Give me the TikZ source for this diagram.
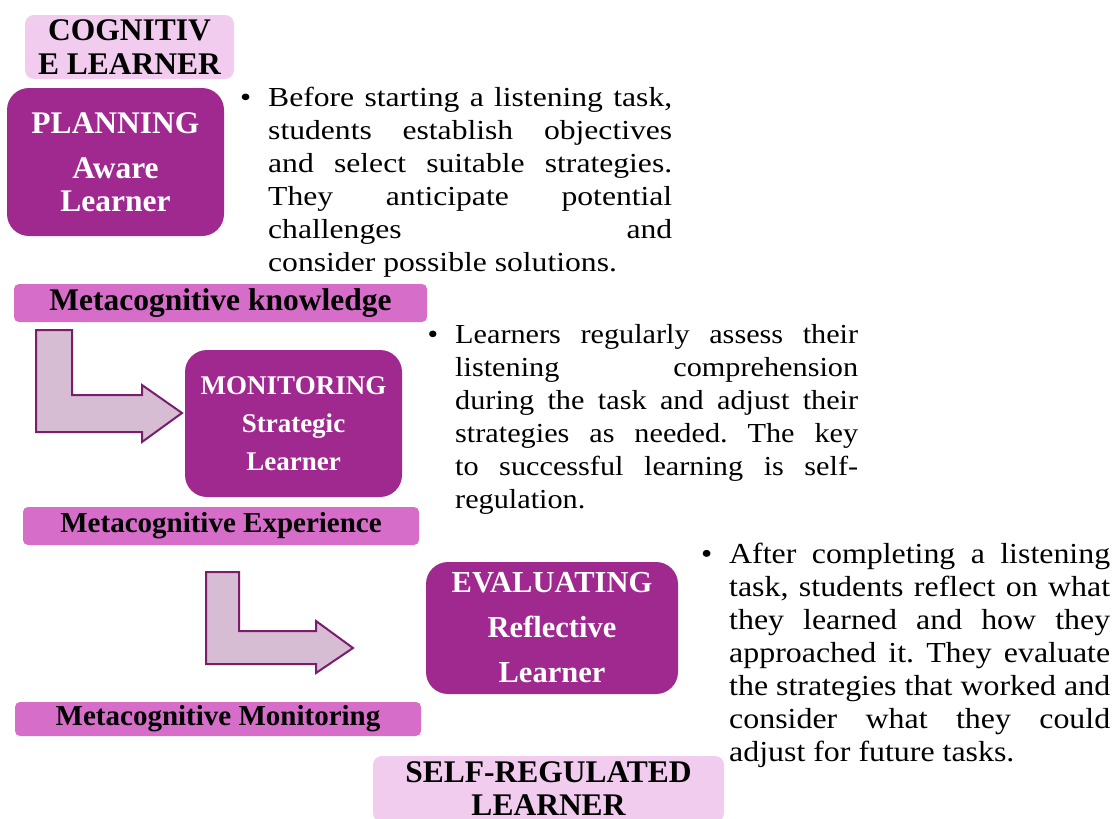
\documentclass[tikz,border=0pt]{standalone}
\usepackage{fontspec}
\setmainfont{Liberation Serif}
\newfontfamily\bodyA[FakeStretch=1.15]{Liberation Serif}
\newfontfamily\bodyB[FakeStretch=1.1]{Liberation Serif}
\newfontfamily\bodyC[FakeStretch=1.1]{Liberation Serif}
\definecolor{stagepurple}{HTML}{A0298F}
\definecolor{tagpink}{HTML}{F2CCEE}
\definecolor{barorchid}{HTML}{D66DC8}
\definecolor{arrowfill}{HTML}{D7BDD4}
\definecolor{arrowline}{HTML}{7A1E6C}
\newcommand\jl[1]{\makebox[\linewidth][s]{#1}\\}
\newcommand\bul{\llap{\textbullet\hspace{17pt}}}
\frenchspacing
\tikzset{
  stage/.style={fill=stagepurple, rounded corners=22pt, text=white, align=center, inner sep=0pt},
  tagbox/.style={fill=tagpink, rounded corners=9pt, align=center, inner sep=0pt},
  barbox/.style={fill=barorchid, rounded corners=5pt, inner sep=0pt},
  bendarrow/.style={fill=arrowfill, draw=arrowline, line width=2pt, line join=miter},
  bodytext/.style={anchor=base west, inner sep=0pt}
}
\begin{document}
\begin{tikzpicture}[x=1pt,y=-1pt]
\useasboundingbox (0,0) rectangle (1119,819);
\clip (0,0) rectangle (1119,819);

% tags
\node[tagbox, minimum width=209pt, minimum height=64pt, font=\bfseries\fontsize{31.5}{34}\selectfont] (cog) at (129.5,47) {COGNITIV\\E LEARNER};
\node[tagbox, minimum width=351pt, minimum height=66pt, font=\bfseries\fontsize{31.5}{33}\selectfont] (self) at (548.5,789) {SELF-REGULATED\\LEARNER};

% stages
\node[stage, minimum width=217pt, minimum height=148pt, font=\bfseries\fontsize{31.5}{33}\selectfont] (plan) at (115.5,162) {PLANNING\\[12pt]Aware\\Learner};
\node[stage, minimum width=217pt, minimum height=147pt, font=\bfseries\fontsize{27}{38}\selectfont] (mon) at (293.5,423.5) {MONITORING\\Strategic\\Learner};
\node[stage, minimum width=252pt, minimum height=132pt, font=\bfseries\fontsize{30.5}{45}\selectfont] (eval) at (552,628) {EVALUATING\\Reflective\\Learner};

% bars
\node[barbox, minimum width=413pt, minimum height=38pt, font=\bfseries\fontsize{31.5}{33}\selectfont] (know) at (220.5,303) {Metacognitive knowledge};
\node[barbox, minimum width=396pt, minimum height=38pt, font=\bfseries\fontsize{29}{33}\selectfont] (expe) at (221,526) {Metacognitive Experience};
\node[barbox, minimum width=406pt, minimum height=34pt, font=\bfseries\fontsize{29}{33}\selectfont] (moni) at (218,719) {Metacognitive Monitoring};

% bent arrows
\draw[bendarrow] (36,330) -- (72,330) -- (72,395) -- (142,395) -- (142,385) -- (182,413) -- (142,442) -- (142,432) -- (36,432) -- cycle;
\draw[bendarrow] (206,572) -- (239,572) -- (239,631) -- (316,631) -- (316,621) -- (353,648) -- (316,673) -- (316,664) -- (206,664) -- cycle;

% texts
\node[bodytext] (txtA) at (268,106.7) {\parbox[t]{404pt}{\bodyA\fontsize{27.5}{33}\selectfont
\jl{\bul Before starting a listening task,}
\jl{students establish objectives}
\jl{and select suitable strategies.}
\jl{They anticipate potential}
\jl{challenges and}
consider possible solutions.}};

\node[bodytext] (txtB) at (455,343.3) {\parbox[t]{403pt}{\bodyB\fontsize{27.5}{33}\selectfont
\jl{\bul Learners regularly assess their}
\jl{listening comprehension}
\jl{during the task and adjust their}
\jl{strategies as needed. The key}
\jl{to successful learning is self-}
regulation.}};

\node[bodytext] (txtC) at (729,563.3) {\parbox[t]{381pt}{\bodyC\fontsize{29}{33}\selectfont
\jl{\bul After completing a listening}
\jl{task, students reflect on what}
\jl{they learned and how they}
\jl{approached it. They evaluate}
\jl{the strategies that worked and}
\jl{consider what they could}
adjust for future tasks.}};
\end{tikzpicture}
\end{document}
